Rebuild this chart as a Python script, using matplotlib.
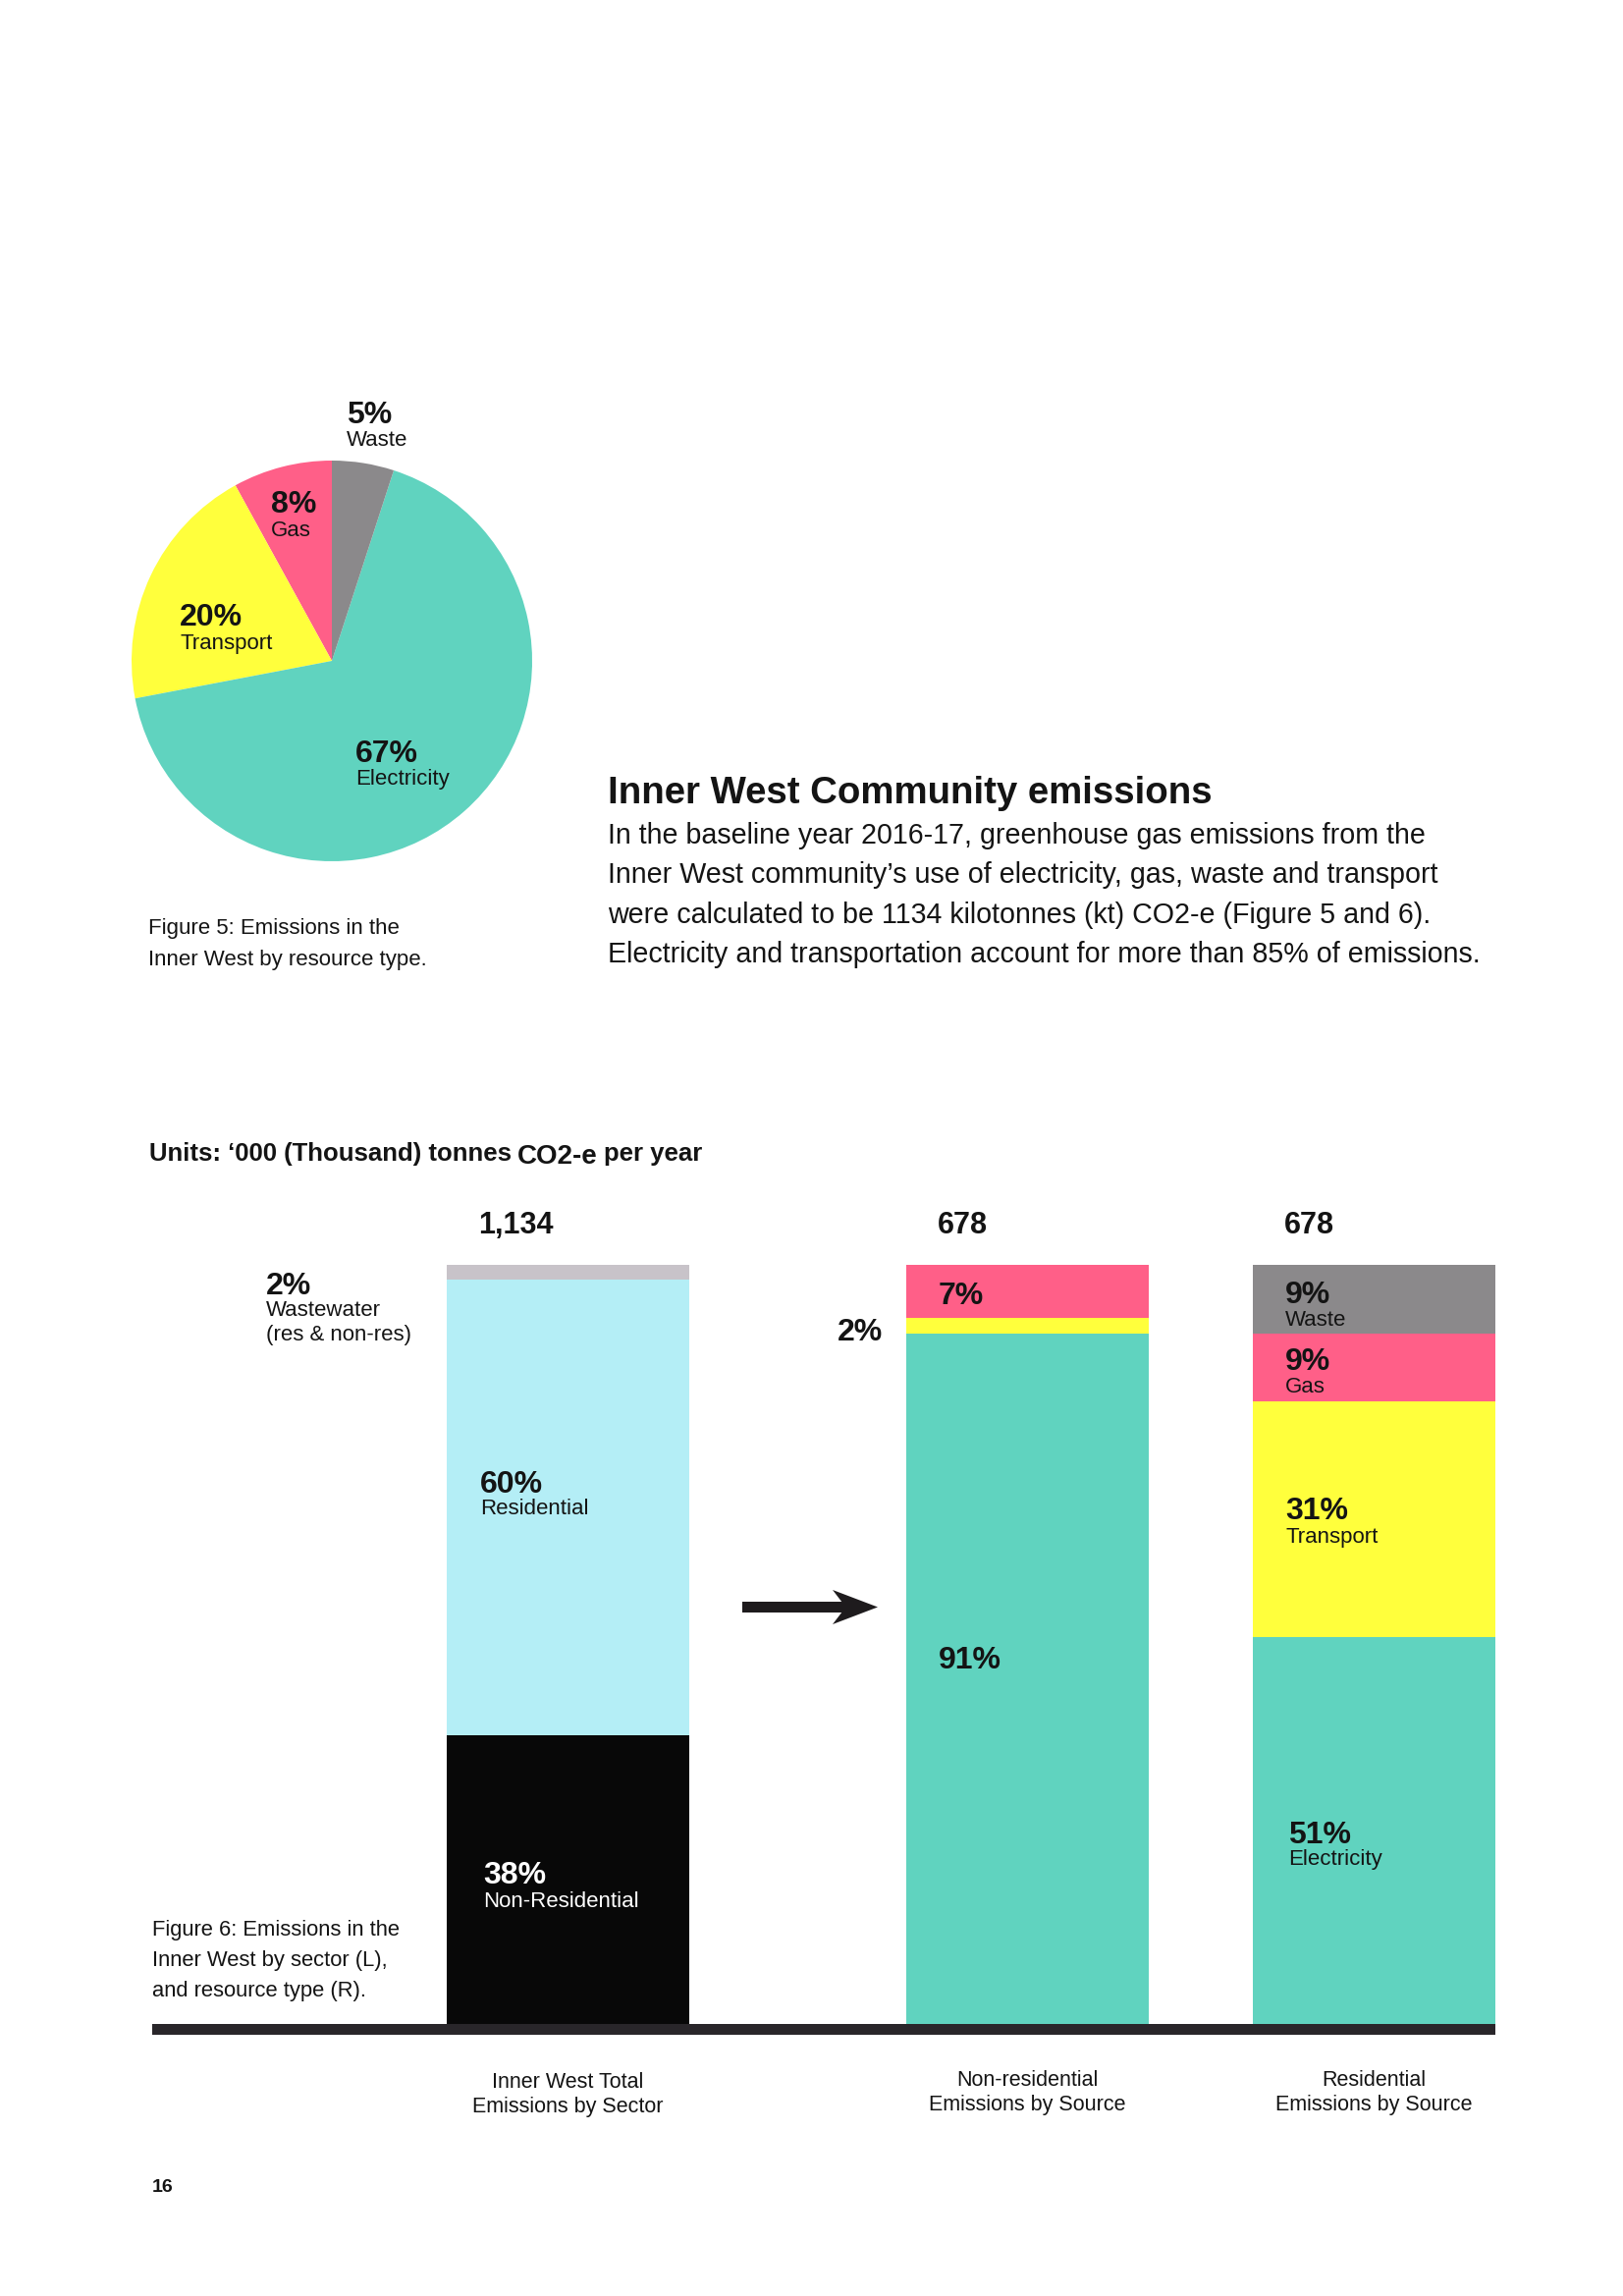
import matplotlib
matplotlib.use("Agg")
import matplotlib.pyplot as plt
from matplotlib.patches import FancyArrow

plt.rcParams['font.family'] = ['Liberation Sans', 'DejaVu Sans']

W, H = 1653, 2338
DPI = 100

# ---------------- data ----------------
pie_labels = ["Gas", "Transport", "Electricity", "Waste"]
pie_values = [8, 20, 67, 5]

bar_names = [("Inner West Total", "Emissions by Sector"),
             ("Non-residential", "Emissions by Source"),
             ("Residential", "Emissions by Source")]
bar_totals = ["1,134", "678", "678"]

sector_labels = ["Non-Residential", "Residential", "Wastewater"]
sector_values = [38, 60, 2]

nonres_labels = ["Electricity", "Transport", "Gas"]
nonres_values = [91, 2, 7]

res_labels = ["Electricity", "Transport", "Gas", "Waste"]
res_values = [51, 31, 9, 9]

# ---------------- colours ----------------
C_TEAL = "#60d3bf"
C_YELLOW = "#ffff3c"
C_PINK = "#ff5f88"
C_GREY = "#8b898b"
C_LBLUE = "#b4eef6"
C_LGREY = "#c8c3c9"
C_BLACK = "#080808"
TXT = "#141414"

pie_colors = [C_PINK, C_YELLOW, C_TEAL, C_GREY]
sector_colors = [C_BLACK, C_LBLUE, C_LGREY]
nonres_colors = [C_TEAL, C_YELLOW, C_PINK]
res_colors = [C_TEAL, C_YELLOW, C_PINK, C_GREY]

fig = plt.figure(figsize=(W / DPI, H / DPI), dpi=DPI)
fig.patch.set_facecolor("white")

DY = 3  # small vertical correction for centred text


def px_axes(x0, y0, x1, y1):
    """axes placed by pixel box (top-left origin)"""
    return fig.add_axes([x0 / W, 1 - y1 / H, (x1 - x0) / W, (y1 - y0) / H])


# overlay axes in pixel coordinates for text and arrow
ax0 = px_axes(0, 0, W, H)
ax0.set_xlim(0, W)
ax0.set_ylim(H, 0)
ax0.axis("off")
ax0.set_zorder(5)
ax0.patch.set_alpha(0)


def txt(x, y, s, **kw):
    kw.setdefault("color", TXT)
    kw.setdefault("ha", "left")
    kw.setdefault("va", "center")
    return ax0.text(x, y + DY, s, **kw)


# ---------------- pie ----------------
cx, cy, r = 338, 673, 204
axp = px_axes(cx - r, cy - r, cx + r, cy + r)
axp.pie(pie_values, colors=pie_colors, startangle=90, counterclock=True,
        wedgeprops=dict(linewidth=0))
axp.set_xlim(-1, 1)
axp.set_ylim(-1, 1)
axp.set_aspect("equal")
axp.axis("off")

PCT = 23
LAB = 16


def two_line(x, y_pct, y_lab, pct, lab, color=TXT, pct_size=PCT, lab_size=LAB):
    txt(x, y_pct, pct, fontsize=pct_size, fontweight="bold", color=color)
    if lab:
        txt(x, y_lab, lab, fontsize=lab_size, color=color)


pie_text_pos = {"Waste": (353, 420, 446), "Gas": (276, 511, 537),
                "Transport": (183, 626, 652), "Electricity": (362, 765, 791)}
for lab, val in zip(pie_labels, pie_values):
    x, yp, yl = pie_text_pos[lab]
    two_line(x, yp, yl, f"{val}%", lab)

txt(151, 943, "Figure 5: Emissions in the", fontsize=16)
txt(151, 974, "Inner West by resource type.", fontsize=16)

# ---------------- text block ----------------
txt(619, 805, "Inner West Community emissions", fontsize=27.6,
    fontweight="bold")
body = ["In the baseline year 2016-17, greenhouse gas emissions from the",
        "Inner West community\u2019s use of electricity, gas, waste and transport",
        "were calculated to be 1134 kilotonnes (kt) CO2-e (Figure 5 and 6).",
        "Electricity and transportation account for more than 85% of emissions."]
for i, line in enumerate(body):
    txt(619, 848 + i * 40.3, line, fontsize=20.6)

# units line (CO2-e slightly larger, as in the original)
fig.canvas.draw()
rend = fig.canvas.get_renderer()
u_y = 1182
t1 = ax0.text(152, u_y, "Units: \u2018000 (Thousand) tonnes", fontsize=18.5,
              fontweight="bold", color=TXT, ha="left", va="baseline")
x_after = t1.get_window_extent(rend).x1 + 6
t2 = ax0.text(x_after, u_y + 3, "CO2-e", fontsize=20, fontweight="bold",
              color=TXT, ha="left", va="baseline")
x_after = t2.get_window_extent(rend).x1 + 6
ax0.text(x_after, u_y, "per year", fontsize=18.5, fontweight="bold",
         color=TXT, ha="left", va="baseline")

# ---------------- stacked bars ----------------
BX0, BX1 = 155, 1523
BY_TOP, BY_BASE = 1288, 2061
BASE_T = 11
axb = px_axes(BX0, BY_TOP, BX1, BY_BASE + BASE_T)
base_frac = BASE_T / (BY_BASE - BY_TOP)
axb.set_xlim(BX0, BX1)
axb.set_ylim(-100 * base_frac, 100)
axb.axis("off")

bar_left = [455, 923, 1276]
bar_w = 247
stacks = [(sector_values, sector_colors),
          (nonres_values, nonres_colors),
          (res_values, res_colors)]
for xl, (vals, cols) in zip(bar_left, stacks):
    bottom = 0
    for v, c in zip(vals, cols):
        axb.bar(xl, v, width=bar_w, bottom=bottom, color=c, align="edge",
                linewidth=0)
        bottom += v
axb.axhspan(-100 * base_frac, 0, xmin=0, xmax=1, color="#29262a", linewidth=0)

# totals above bars
for xl, t in zip(bar_left, bar_totals):
    txt(xl + 32, 1245, t, fontsize=22, fontweight="bold")

# bar 1 labels
two_line(271, 1307, 1332, f"{sector_values[2]}%", sector_labels[2])
txt(271, 1357, "(res & non-res)", fontsize=LAB)
two_line(489, 1509, 1534, f"{sector_values[1]}%", sector_labels[1])
two_line(492, 1907, 1933, f"{sector_values[0]}%", sector_labels[0], color="white")

# bar 2 labels
two_line(956, 1317, None, f"{nonres_values[2]}%", None)
two_line(853, 1354, None, f"{nonres_values[1]}%", None)
two_line(956, 1688, None, f"{nonres_values[0]}%", None)

# bar 3 labels
two_line(1309, 1316, 1341, f"{res_values[3]}%", res_labels[3])
two_line(1309, 1384, 1409, f"{res_values[2]}%", res_labels[2])
two_line(1309, 1536, 1562, f"{res_values[1]}%", res_labels[1])
two_line(1312, 1866, 1891, f"{res_values[0]}%", res_labels[0])

# categories below
name_y = [(2117, 2142), (2115, 2141), (2115, 2141)]
for xl, (l1, l2), (y1, y2) in zip(bar_left, bar_names, name_y):
    txt(xl + bar_w / 2, y1, l1, fontsize=15.5, ha="center")
    txt(xl + bar_w / 2, y2, l2, fontsize=15.5, ha="center")

# figure 6 caption
cap6 = ["Figure 6: Emissions in the", "Inner West by sector (L),",
        "and resource type (R)."]
for i, line in enumerate(cap6):
    txt(155, 1962 + i * 31.5, line, fontsize=15.8)

# arrow
ax0.add_patch(FancyArrow(756, 1636.5, 138, 0, width=11, head_width=35,
                         head_length=46, overhang=0.2,
                         length_includes_head=True,
                         color="#1e1b1d", linewidth=0))

# page number
txt(155, 2225, "16", fontsize=14, fontweight="bold")

fig.savefig("out.png", dpi=DPI, facecolor="white")
